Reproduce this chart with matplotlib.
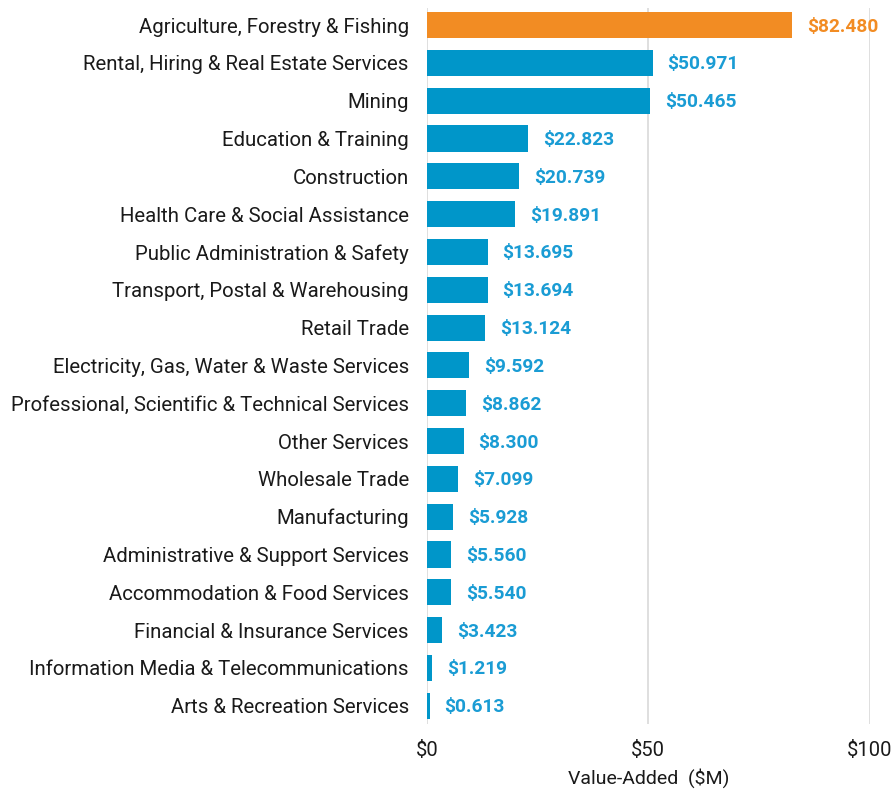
import matplotlib.pyplot as plt

plt.rcParams['font.family'] = ['Roboto', 'DejaVu Sans']

industries = [
    'Agriculture, Forestry & Fishing',
    'Rental, Hiring & Real Estate Services',
    'Mining',
    'Education & Training',
    'Construction',
    'Health Care & Social Assistance',
    'Public Administration & Safety',
    'Transport, Postal & Warehousing',
    'Retail Trade',
    'Electricity, Gas, Water & Waste Services',
    'Professional, Scientific & Technical Services',
    'Other Services',
    'Wholesale Trade',
    'Manufacturing',
    'Administrative & Support Services',
    'Accommodation & Food Services',
    'Financial & Insurance Services',
    'Information Media & Telecommunications',
    'Arts & Recreation Services',
]
values = [82.480, 50.971, 50.465, 22.823, 20.739, 19.891, 13.695, 13.694, 13.124,
          9.592, 8.862, 8.300, 7.099, 5.928, 5.560, 5.540, 3.423, 1.219, 0.613]
x_ticks = [0, 50, 100]
x_tick_labels = ['$0', '$50', '$100']

blue = '#0096C9'
orange = '#F28C23'
colors = [orange] + [blue] * (len(values) - 1)
label_colors = [orange] + ['#1A9CD4'] * (len(values) - 1)

fig = plt.figure(figsize=(8.93, 7.92), dpi=100)
ax = fig.add_axes([0.478, 0.0859, 0.496, 0.904])

ypos = list(range(len(values)))
ax.barh(ypos, values, height=0.69, color=colors, zorder=2)
ax.set_ylim(len(values) - 1 + 0.48, -0.45)
ax.set_xlim(0, 100)

for y, v, c in zip(ypos, values, label_colors):
    ax.annotate(f'${v:.3f}', (v, y), xytext=(15, -1.5), textcoords='offset pixels',
                va='center', ha='left', color=c, fontsize=13.8, fontweight='bold')

ax.set_yticks(ypos)
ax.set_yticklabels(industries, fontsize=14.7, color='#1a1a1a')
ax.set_xticks(x_ticks)
ax.set_xticklabels(x_tick_labels, fontsize=14.5, color='#1a1a1a')
ax.tick_params(axis='y', length=0, pad=13)
ax.tick_params(axis='x', length=0, pad=12)
ax.set_xlabel('Value-Added  ($M)', fontsize=14, color='#1a1a1a', labelpad=6)

ax.grid(axis='x', color='#D9D9D9', linewidth=1.2, zorder=0)
for s in ax.spines.values():
    s.set_visible(False)

fig.savefig('out.png', dpi=100)
